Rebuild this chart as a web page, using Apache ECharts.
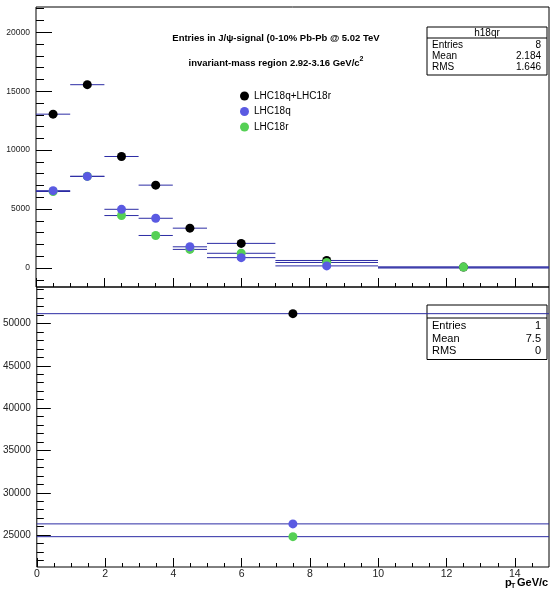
<!DOCTYPE html>
<html>
<head>
<meta charset="utf-8">
<script src="https://cdn.jsdelivr.net/npm/echarts@6/dist/echarts.min.js"></script>
<style>
  html, body { margin: 0; padding: 0; background: #fff; }
  #chart { width: 550px; height: 590px; }
</style>
</head>
<body>
<div id="chart"></div>
<script>
// pT bins (GeV/c)
var binLo = [0, 1, 2, 3, 4, 5, 7, 10];
var binHi = [1, 2, 3, 4, 5, 7, 10, 15];
var binCenter = [0.5, 1.5, 2.5, 3.5, 4.5, 6, 8.5, 12.5];

// entries per bin, top pad (empty bins get no marker, like ROOT)
var sumCounts = [13050, 15550, 9460, 7030, 3380, 2090, 640, 80];
var qCounts   = [6560, 7770, 4980, 4220, 1800, 880, 180, 0];
var rCounts   = [6490, 7780, 4450, 2760, 1580, 1250, 470, 80];

// integrated, bottom pad (single bin 0-15)
var totLo = [0];
var totHi = [15];
var totCenter = [7.5];
var totSum = [51150];
var totQ = [26330];
var totR = [24820];

var seriesNames = ['LHC18q+LHC18r', 'LHC18q', 'LHC18r'];
var seriesColors = ['#000000', '#5a5ae2', '#55d055'];

// ticks
var xMajor = [0, 2, 4, 6, 8, 10, 12, 14];
var xMinor = [0.5, 1, 1.5, 2.5, 3, 3.5, 4.5, 5, 5.5, 6.5, 7, 7.5, 8.5, 9, 9.5, 10.5, 11, 11.5, 12.5, 13, 13.5, 14.5];
var yTopMajor = [0, 5000, 10000, 15000, 20000];
var yTopMinor = [-1000, 1000, 2000, 3000, 4000, 6000, 7000, 8000, 9000, 11000, 12000, 13000, 14000,
                 16000, 17000, 18000, 19000, 21000, 22000];
var yBotMajor = [25000, 30000, 35000, 40000, 45000, 50000];
var yBotMinor = [22000, 23000, 24000, 26000, 27000, 28000, 29000, 31000, 32000, 33000, 34000,
                 36000, 37000, 38000, 39000, 41000, 42000, 43000, 44000, 46000, 47000, 48000, 49000,
                 51000, 52000, 53000, 54000];

var FONT = '"Liberation Sans", Arial, sans-serif';
var barColor = '#2c2ca4';

var chart = echarts.init(document.getElementById('chart'));

function hbar(params, api) {
  var a = api.coord([api.value(0), api.value(2)]);
  var b = api.coord([api.value(1), api.value(2)]);
  return {
    type: 'line',
    shape: { x1: a[0], y1: a[1], x2: b[0], y2: b[1] },
    style: { stroke: barColor, lineWidth: 1 }
  };
}

function xAxisDef(grid, ticks, len, labels) {
  return {
    type: 'value', gridIndex: grid, min: 0, max: 15, position: 'bottom',
    axisLine: { show: false, onZero: false },
    axisTick: { show: true, inside: true, length: len, customValues: ticks,
                lineStyle: { color: '#000', width: 1 } },
    axisLabel: { show: labels, customValues: ticks, margin: 2, fontSize: 10.5,
                 color: '#222', fontFamily: FONT },
    splitLine: { show: false }
  };
}

function yAxisDef(grid, min, max, ticks, len, labels, fs) {
  return {
    type: 'value', gridIndex: grid, min: min, max: max, position: 'left',
    axisLine: { show: false, onZero: false },
    axisTick: { show: true, inside: true, length: len, customValues: ticks,
                lineStyle: { color: '#000', width: 1 } },
    axisLabel: { show: labels, customValues: ticks, margin: 6, fontSize: fs,
                 color: '#222', fontFamily: FONT,
                 formatter: function (v) { return String(v); } },
    splitLine: { show: false }
  };
}

var topSets = [sumCounts, rCounts, qCounts];
var topIdx = [0, 2, 1];
var botSets = [totSum, totR, totQ];
var series = [];

topSets.forEach(function (vals, k) {
  var c = topIdx[k];
  series.push({
    type: 'custom', xAxisIndex: 0, yAxisIndex: 0, renderItem: hbar, silent: true,
    encode: { x: [0, 1], y: 2 },
    data: vals.map(function (v, i) { return [binLo[i], binHi[i], v]; })
  });
  series.push({
    name: seriesNames[c], type: 'scatter', xAxisIndex: 0, yAxisIndex: 0,
    symbol: 'circle', symbolSize: 9,
    itemStyle: { color: seriesColors[c], opacity: 1 },
    data: vals.map(function (v, i) { return v > 0 ? [binCenter[i], v] : null; })
      .filter(function (p) { return p; })
  });
});

botSets.forEach(function (vals, k) {
  var c = topIdx[k];
  series.push({
    type: 'custom', xAxisIndex: 2, yAxisIndex: 2, renderItem: hbar, silent: true,
    encode: { x: [0, 1], y: 2 },
    data: vals.map(function (v, i) { return [totLo[i], totHi[i], v]; })
  });
  series.push({
    name: seriesNames[c], type: 'scatter', xAxisIndex: 2, yAxisIndex: 2,
    symbol: 'circle', symbolSize: 9,
    itemStyle: { color: seriesColors[c], opacity: 1 },
    data: vals.map(function (v, i) { return [totCenter[i], v]; })
  });
});

function statsBox(x, y, title, rows, head, rowH, fs) {
  var w = 120;
  var font = fs + 'px ' + FONT;
  var kids = [
    { type: 'rect', shape: { x: x, y: y, width: w, height: head + rows.length * rowH + 4 },
      style: { fill: '#fff', stroke: '#000', lineWidth: 1 } },
    { type: 'line', shape: { x1: x, y1: y + head, x2: x + w, y2: y + head },
      style: { stroke: '#000', lineWidth: 1 } },
    { type: 'text', x: x + w / 2, y: y + head / 2 + 0.5,
      style: { text: title, fill: '#000', font: font, align: 'center', verticalAlign: 'middle' } }
  ];
  rows.forEach(function (r, i) {
    var cy = y + head + 2 + rowH * i + rowH / 2;
    kids.push({ type: 'text', x: x + 5, y: cy,
      style: { text: r[0], fill: '#000', font: font, align: 'left', verticalAlign: 'middle' } });
    kids.push({ type: 'text', x: x + w - 6, y: cy,
      style: { text: r[1], fill: '#000', font: font, align: 'right', verticalAlign: 'middle' } });
  });
  return { type: 'group', z: 100, children: kids };
}

var option = {
  animation: false,
  backgroundColor: '#fff',
  textStyle: { fontFamily: FONT },
  grid: [
    { left: 36, right: 1, top: 7, height: 280, show: true, borderColor: '#000', borderWidth: 1 },
    { left: 36, right: 1, top: 287, height: 280, show: true, borderColor: '#000', borderWidth: 1 }
  ],
  xAxis: [
    xAxisDef(0, xMajor, 9, false),
    xAxisDef(0, xMinor, 4, false),
    xAxisDef(1, xMajor, 9, true),
    xAxisDef(1, xMinor, 4, false)
  ],
  yAxis: [
    yAxisDef(0, -1610, 22140, yTopMajor, 16, true, 8.5),
    yAxisDef(0, -1610, 22140, yTopMinor, 8, false, 8.5),
    yAxisDef(1, 21240, 54300, yBotMajor, 14, true, 10),
    yAxisDef(1, 21240, 54300, yBotMinor, 7, false, 10)
  ],
  legend: {
    data: seriesNames, orient: 'vertical', left: 235, top: 84,
    icon: 'circle', itemWidth: 9, itemHeight: 9, itemGap: 1.5,
    textStyle: { fontSize: 10, lineHeight: 14, color: '#000', fontFamily: FONT },
    selectedMode: false
  },
  graphic: [
    { type: 'text', x: 276, y: 38, z: 100,
      style: { text: 'Entries in J/\u03c8-signal (0-10% Pb-Pb @ 5.02 TeV', fill: '#000',
               font: 'bold 9.5px ' + FONT, align: 'center', verticalAlign: 'middle' } },
    { type: 'text', x: 276, y: 63, z: 100,
      style: { text: '{a|invariant-mass region 2.92-3.16 GeV/c}{s|2}',
               align: 'center', verticalAlign: 'middle',
               rich: {
                 a: { font: 'bold 9.5px ' + FONT, fill: '#000' },
                 s: { font: 'bold 7px ' + FONT, fill: '#000', padding: [0, 0, 7, 0] }
               } } },
    statsBox(427, 27, 'h18qr', [['Entries', '8'], ['Mean', '2.184'], ['RMS', '1.646']], 11, 11, 10),
    statsBox(427, 305, '', [['Entries', '1'], ['Mean', '7.5'], ['RMS', '0']], 13, 12.5, 11),
    { type: 'text', x: 505, y: 577, z: 100,
      style: { text: 'p', fill: '#000', font: 'bold 11px ' + FONT, align: 'left', verticalAlign: 'top' } },
    { type: 'text', x: 511, y: 583, z: 100,
      style: { text: 'T', fill: '#000', font: 'bold 7px ' + FONT, align: 'left', verticalAlign: 'top' } },
    { type: 'text', x: 517, y: 577, z: 100,
      style: { text: 'GeV/c', fill: '#000', font: 'bold 11px ' + FONT, align: 'left', verticalAlign: 'top' } }
  ],
  series: series
};

chart.setOption(option);
</script>
</body>
</html>
